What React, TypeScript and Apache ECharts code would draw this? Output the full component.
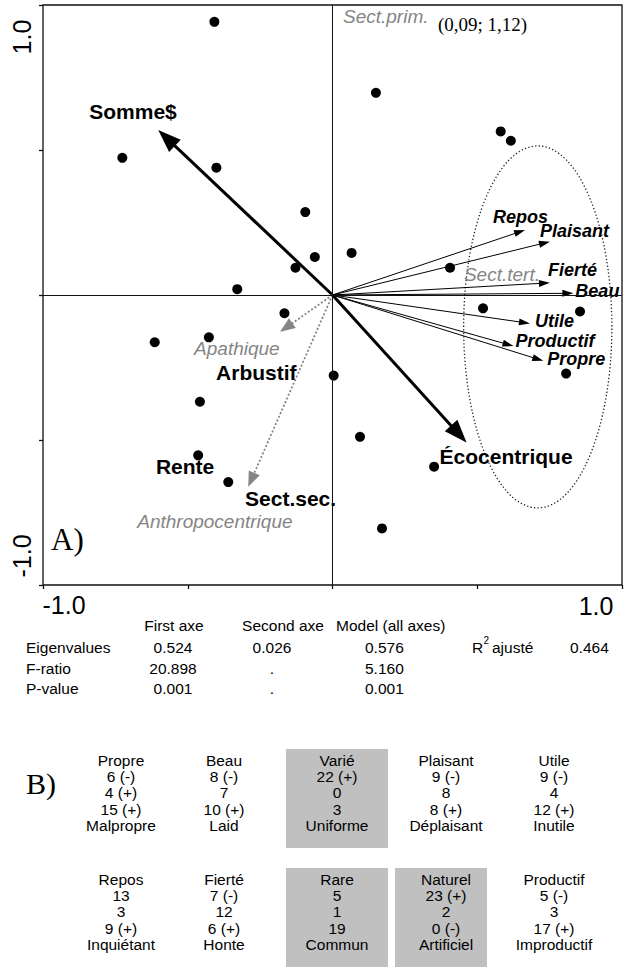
import { useEffect, useRef } from 'react';
import * as echarts from 'echarts';

// ---- Site scores on canonical axes 1 and 2 (25 sites) ----
const siteX = [-0.408, -0.726, -0.401, 0.15, 0.581, 0.616, -0.094, -0.128, -0.061, 0.066, -0.329, 0.406, -0.166, -0.614, -0.427, 0.52, 0.855, 0.807, 0.004, -0.458, -0.464, -0.36, 0.095, 0.351, 0.171];
const siteY = [0.942, 0.473, 0.439, 0.697, 0.564, 0.532, 0.286, 0.094, 0.131, 0.145, 0.02, 0.094, -0.063, -0.163, -0.146, -0.046, -0.057, -0.271, -0.278, -0.368, -0.553, -0.645, -0.489, -0.592, -0.805];

// ---- Explanatory variables (thick arrows) ----
const explNames = ['Somme$', 'Écocentrique'];
const explX = [-0.602, 0.463];
const explY = [0.569, -0.509];

// ---- Landscape descriptors (thin arrows) ----
const descNames = ['Repos', 'Plaisant', 'Fierté', 'Beau', 'Utile', 'Productif', 'Propre'];
const descX = [0.665, 0.751, 0.751, 0.832, 0.682, 0.625, 0.728];
const descY = [0.224, 0.184, 0.042, 0.006, -0.098, -0.176, -0.227];

// ---- Supplementary variables (dotted grey arrows) ----
const suppNames = ['Apathique', 'Anthropocentrique'];
const suppX = [-0.181, -0.291];
const suppY = [-0.127, -0.661];

// ---- Centroids of nominal variables ----
const centroidNames = ['Arbustif', 'Rente', 'Sect.sec.', 'Sect.tert.'];
const centroidX = [-0.402, -0.61, -0.302, 0.454];
const centroidY = [-0.266, -0.593, -0.7, 0.072];
const centroidGrey = [false, false, false, true];

// Sect.prim. lies outside the plotted window
const sectPrimLabel = 'Sect.prim.';
const sectPrimCoords = '(0,09; 1,12)';

// Descriptor group envelope: centre and radii in axis units
const envelopeCentre = [0.709, -0.11];
const envelopeRadii = [0.256, 0.624];

// ---- Axis end labels ----
const axisEndLabels = ['-1.0', '1.0'];

// ---- Table A: ordination statistics ----
const statHeaders = ['First axe', 'Second axe', 'Model (all axes)'];
const statRows = ['Eigenvalues', 'F-ratio', 'P-value'];
const firstAxe = ['0.524', '20.898', '0.001'];
const secondAxe = ['0.026', '.', '.'];
const modelAll = ['0.576', '5.160', '0.001'];
const r2Adjusted = '0.464';

// ---- Table B: counts per bipolar descriptor ----
const pairTop = ['Propre', 'Beau', 'Varié', 'Plaisant', 'Utile', 'Repos', 'Fierté', 'Rare', 'Naturel', 'Productif'];
const pairBottom = ['Malpropre', 'Laid', 'Uniforme', 'Déplaisant', 'Inutile', 'Inquiétant', 'Honte', 'Commun', 'Artificiel', 'Improductif'];
const countTop = ['6 (-)', '8 (-)', '22 (+)', '9 (-)', '9 (-)', '13', '7 (-)', '5', '23 (+)', '5 (-)'];
const countMid = ['4 (+)', '7', '0', '8', '4', '3', '12', '1', '2', '3'];
const countBottom = ['15 (+)', '10 (+)', '3', '8 (+)', '12 (+)', '9 (+)', '6 (+)', '19', '0 (-)', '17 (+)'];
const highlighted = [false, false, true, false, false, false, false, true, true, false];

const SANS = '"Liberation Sans", Arial, Helvetica, sans-serif';
const SERIF = '"Liberation Serif", "Times New Roman", serif';
const GREY = '#858585';

// label offsets (px) from arrow tips, left/middle anchored
const arrowLabelOffset: Record<string, [number, number]> = {
  'Somme$': [-69, -18],
  'Écocentrique': [-27, 14],
  Repos: [-32, -13],
  Plaisant: [-10, -11],
  'Fierté': [-2, -13],
  Beau: [2, -2],
  Utile: [5, -2],
  Productif: [2, -5],
  Propre: [4, -2],
  Apathique: [-86, 17],
  Anthropocentrique: [-111, 35],
};

type ArrowKind = 0 | 1 | 2;
const arrowStyle = [
  { stroke: '#000', lineWidth: 3, dash: null as null | number[], headL: 23, headW: 8.5, fill: '#000', fontSize: 21, fontWeight: 'bold', fontStyle: 'normal', text: '#000' },
  { stroke: '#000', lineWidth: 1, dash: null as null | number[], headL: 11, headW: 3.5, fill: '#000', fontSize: 18, fontWeight: 'bold', fontStyle: 'italic', text: '#000' },
  { stroke: GREY, lineWidth: 1.8, dash: [2, 2] as null | number[], headL: 15, headW: 6, fill: GREY, fontSize: 19, fontWeight: 'normal', fontStyle: 'italic', text: GREY },
];

function text(str: string, x: number, y: number, o: any = {}) {
  const align = o.align || 'left';
  return {
    type: 'text',
    x,
    y,
    rotation: o.rotation || 0,
    silent: true,
    style: {
      text: str,
      fill: o.fill || '#000',
      fontSize: o.fontSize || 15.5,
      fontFamily: o.fontFamily || SANS,
      fontWeight: o.fontWeight || 'normal',
      fontStyle: o.fontStyle || 'normal',
      align,
      textAlign: align,
      verticalAlign: 'middle',
      textVerticalAlign: 'middle',
    },
  };
}

export default function App() {
  const ref = useRef<HTMLDivElement>(null);

  useEffect(() => {
    if (!ref.current) return;
    const chart = echarts.init(ref.current, undefined, { renderer: 'svg' });

    const arrows: { name: string; x: number; y: number; kind: ArrowKind }[] = [
      ...explNames.map((n, i) => ({ name: n, x: explX[i], y: explY[i], kind: 0 as ArrowKind })),
      ...descNames.map((n, i) => ({ name: n, x: descX[i], y: descY[i], kind: 1 as ArrowKind })),
      ...suppNames.map((n, i) => ({ name: n, x: suppX[i], y: suppY[i], kind: 2 as ArrowKind })),
    ];

    const graphics: any[] = [];

    // axis end labels
    graphics.push(text(axisEndLabels[0], 64, 605, { fontSize: 25, align: 'center' }));
    graphics.push(text(axisEndLabels[1], 596, 606, { fontSize: 25, align: 'center' }));
    graphics.push(text(axisEndLabels[1], 22, 37, { fontSize: 25, align: 'center', rotation: Math.PI / 2 }));
    graphics.push(text(axisEndLabels[0], 22, 556, { fontSize: 25, align: 'center', rotation: Math.PI / 2 }));

    // panel letters and top annotation
    graphics.push(text('A)', 51, 539, { fontSize: 31, fontFamily: SERIF }));
    graphics.push(text('B)', 26, 783, { fontSize: 30, fontFamily: SERIF }));
    graphics.push(text(sectPrimLabel, 343, 16, { fontSize: 19, fontStyle: 'italic', fill: GREY }));
    graphics.push(text(sectPrimCoords, 438, 24, { fontSize: 19, fontFamily: SERIF }));

    // Table A
    graphics.push(text(statHeaders[0], 174, 625, { align: 'center' }));
    graphics.push(text(statHeaders[1], 283, 625, { align: 'center' }));
    graphics.push(text(statHeaders[2], 336, 625));
    const rowY = [647, 668, 688];
    statRows.forEach((r, i) => {
      graphics.push(text(r, 26, rowY[i]));
      graphics.push(text(firstAxe[i], 173, rowY[i], { align: 'center' }));
      graphics.push(text(secondAxe[i], 272, rowY[i], { align: 'center' }));
      graphics.push(text(modelAll[i], 365, rowY[i]));
    });
    graphics.push(text('R', 472, 647));
    graphics.push(text('2', 483.5, 640, { fontSize: 10 }));
    graphics.push(text('ajusté', 492, 647));
    graphics.push(text(r2Adjusted, 570, 647));

    // Table B
    const colX = [121, 224, 337, 446, 554];
    const boxLeft = [0, 0, 286, 395, 0];
    const boxWidth = [0, 0, 102, 92, 0];
    const blockTop = [760, 879];
    const boxTop = [749, 868];
    const lineH = 16.4;
    pairTop.forEach((top, i) => {
      const col = i % 5;
      const blk = Math.floor(i / 5);
      if (highlighted[i]) {
        graphics.push({
          type: 'rect',
          silent: true,
          z: -1,
          shape: { x: boxLeft[col], y: boxTop[blk], width: boxWidth[col], height: 99 },
          style: { fill: '#c0c0c0' },
        });
      }
      const lines = [top, countTop[i], countMid[i], countBottom[i], pairBottom[i]];
      lines.forEach((s, k) => {
        graphics.push(text(s, colX[col], blockTop[blk] + k * lineH, { align: 'center' }));
      });
    });

    const axisCommon = {
      type: 'value',
      min: -1,
      max: 1,
      interval: 0.5,
      axisLine: { show: false, onZero: false },
      axisTick: { show: true, length: 4, lineStyle: { color: '#111', width: 1.3 } },
      axisLabel: { show: false },
      splitLine: { show: false },
    };

    chart.setOption({
      animation: false,
      grid: {
        left: 43,
        top: 5,
        width: 579,
        height: 580,
        show: true,
        borderColor: '#111',
        borderWidth: 1.3,
        backgroundColor: 'transparent',
      },
      xAxis: { ...axisCommon, position: 'bottom' },
      yAxis: { ...axisCommon, position: 'left' },
      graphic: graphics,
      series: [
        {
          // descriptor envelope
          type: 'custom',
          silent: true,
          z: 1,
          data: [[envelopeCentre[0], envelopeCentre[1], envelopeRadii[0], envelopeRadii[1]]],
          renderItem: (_p: any, api: any) => {
            const c = api.coord([api.value(0), api.value(1)]);
            const s = api.size([api.value(2), api.value(3)]);
            return {
              type: 'ellipse',
              shape: { cx: c[0], cy: c[1], rx: s[0], ry: s[1] },
              style: { fill: 'none', stroke: '#222', lineWidth: 1.3, lineDash: [1.3, 2.2] },
            };
          },
        },
        {
          type: 'scatter',
          z: 3,
          symbol: 'circle',
          symbolSize: 10,
          itemStyle: { color: '#000', opacity: 1 },
          data: siteX.map((x, i) => [x, siteY[i]]),
          markLine: {
            silent: true,
            symbol: ['none', 'none'],
            label: { show: false },
            lineStyle: { color: '#111', width: 1, type: 'solid' },
            data: [{ xAxis: 0 }, { yAxis: 0 }],
          },
        },
        {
          // ordination arrows with their labels
          type: 'custom',
          silent: true,
          z: 4,
          data: arrows.map((a) => [a.x, a.y, a.kind]),
          renderItem: (params: any, api: any) => {
            const a = arrows[params.dataIndex];
            const st = arrowStyle[a.kind];
            const o = api.coord([0, 0]);
            const t = api.coord([api.value(0), api.value(1)]);
            const dx = t[0] - o[0];
            const dy = t[1] - o[1];
            const len = Math.sqrt(dx * dx + dy * dy) || 1;
            const ux = dx / len;
            const uy = dy / len;
            const bx = t[0] - ux * st.headL;
            const by = t[1] - uy * st.headL;
            const px = -uy * st.headW;
            const py = ux * st.headW;
            const endX = t[0] - ux * st.headL * 0.7;
            const endY = t[1] - uy * st.headL * 0.7;
            const off = arrowLabelOffset[a.name] || [4, 0];
            const lineStyle: any = { stroke: st.stroke, lineWidth: st.lineWidth, fill: 'none' };
            if (st.dash) lineStyle.lineDash = st.dash;
            return {
              type: 'group',
              children: [
                { type: 'line', shape: { x1: o[0], y1: o[1], x2: endX, y2: endY }, style: lineStyle },
                {
                  type: 'polygon',
                  shape: { points: [[t[0], t[1]], [bx + px, by + py], [bx - px, by - py]] },
                  style: { fill: st.fill, stroke: 'none' },
                },
                {
                  type: 'text',
                  x: t[0] + off[0],
                  y: t[1] + off[1],
                  style: {
                    text: a.name,
                    fill: st.text,
                    fontSize: st.fontSize,
                    fontWeight: st.fontWeight,
                    fontStyle: st.fontStyle,
                    fontFamily: SANS,
                    align: 'left',
                    verticalAlign: 'middle',
                  },
                },
              ],
            };
          },
        },
        {
          // centroid labels of nominal variables
          type: 'custom',
          silent: true,
          z: 5,
          data: centroidX.map((x, i) => [x, centroidY[i]]),
          renderItem: (params: any, api: any) => {
            const i = params.dataIndex;
            const p = api.coord([api.value(0), api.value(1)]);
            const grey = centroidGrey[i];
            return {
              type: 'text',
              x: p[0],
              y: p[1],
              style: {
                text: centroidNames[i],
                fill: grey ? GREY : '#000',
                fontSize: grey ? 19 : 21,
                fontWeight: grey ? 'normal' : 'bold',
                fontStyle: grey ? 'italic' : 'normal',
                fontFamily: SANS,
                align: 'left',
                verticalAlign: 'middle',
              },
            };
          },
        },
      ],
    });

    return () => chart.dispose();
  }, []);

  return (
    <div
      ref={ref}
      style={{ position: 'fixed', left: 0, top: 0, width: 630, height: 969, background: '#fff' }}
    />
  );
}
